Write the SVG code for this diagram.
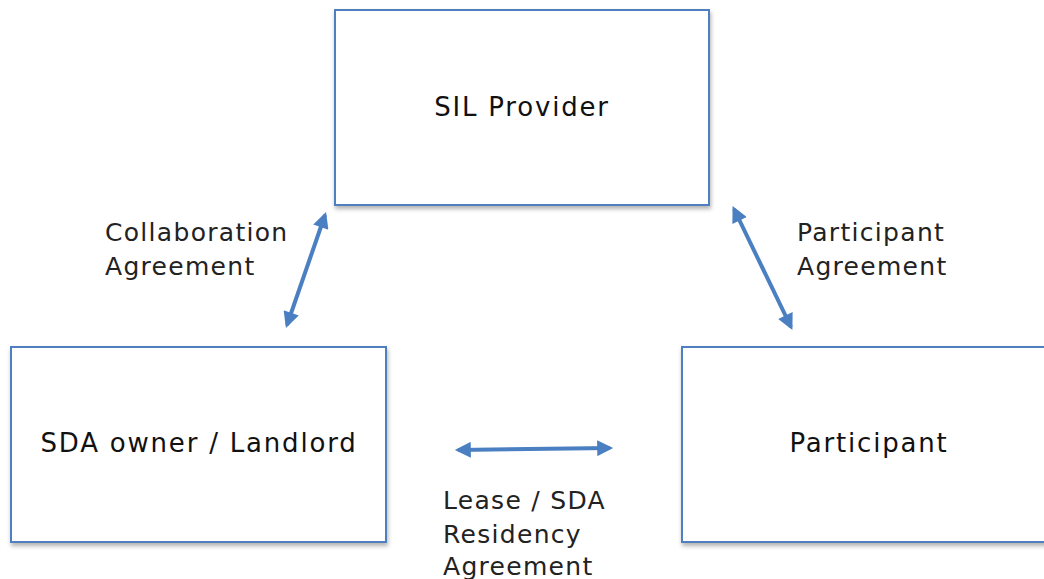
<svg xmlns="http://www.w3.org/2000/svg" width="1044" height="579" viewBox="0 0 1044 579">
<style>
.box{fill:#ffffff;stroke:#4f7fc0;stroke-width:2}
.t{font-family:"DejaVu Sans",sans-serif;font-size:26px;letter-spacing:1.8px;fill:#111111}
.l{font-family:"DejaVu Sans",sans-serif;font-size:25px;letter-spacing:1.3px;fill:#222222}
.c{stroke:#4a7fc1;stroke-width:4;fill:none;marker-start:url(#ah);marker-end:url(#ah)}
</style>
<defs>
<filter id="sh" x="-10%" y="-10%" width="120%" height="130%">
<feDropShadow dx="1" dy="3" stdDeviation="2" flood-color="#000" flood-opacity="0.3"/>
</filter>
<marker id="ah" viewBox="0 0 10 10" refX="8" refY="5" markerWidth="4.5" markerHeight="4" orient="auto-start-reverse" markerUnits="strokeWidth">
<path d="M0,0 L10,5 L0,10 z" fill="#4a7fc1"/>
</marker>
</defs>
<g id="sil">
<rect class="box" x="335" y="10" width="374" height="195" filter="url(#sh)"/>
<text class="t" x="522" y="116" text-anchor="middle">SIL Provider</text>
</g>
<g id="sda">
<rect class="box" x="11" y="347" width="375" height="195" filter="url(#sh)"/>
<text class="t" x="199" y="452" text-anchor="middle">SDA owner / Landlord</text>
</g>
<g id="participant">
<rect class="box" x="682" y="347" width="380" height="195" filter="url(#sh)"/>
<text class="t" x="869" y="452" text-anchor="middle">Participant</text>
</g>
<g id="connectors">
<line class="c" x1="287" y1="325" x2="325" y2="215"/>
<line class="c" x1="734" y1="209" x2="791" y2="327"/>
<line class="c" x1="458" y1="450" x2="610" y2="448"/>
</g>
<g id="labels">
<text class="l" x="105" y="241">Collaboration</text>
<text class="l" x="105" y="275">Agreement</text>
<text class="l" x="797" y="241">Participant</text>
<text class="l" x="797" y="275">Agreement</text>
<text class="l" x="443" y="509">Lease / SDA</text>
<text class="l" x="443" y="543">Residency</text>
<text class="l" x="443" y="575">Agreement</text>
</g>
</svg>
